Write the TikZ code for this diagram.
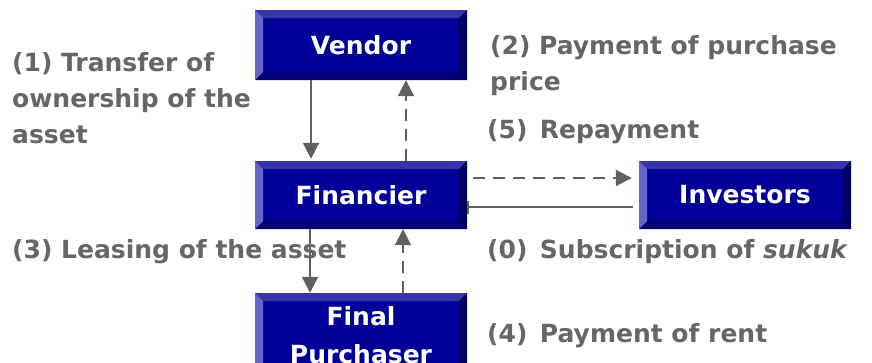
\documentclass[tikz,border=0pt]{standalone}
\usepackage{fontspec}
\setmainfont{DejaVu Sans}
\usetikzlibrary{arrows.meta}

\definecolor{boxface}{HTML}{000099}
\definecolor{bevtop}{HTML}{3636AA}
\definecolor{bevleft}{HTML}{6666C8}
\definecolor{bevright}{HTML}{00005E}
\definecolor{bevbottom}{HTML}{000072}
\definecolor{inkgray}{HTML}{666666}
\definecolor{linegray}{HTML}{606060}

\tikzset{
  bevelbox/.style={
    rectangle, fill=boxface, text=white, inner sep=0pt, align=center,
    minimum width=212pt, minimum height=68pt,
    font=\bfseries\fontsize{25}{38}\selectfont,
    path picture={
      \def\bw{8pt}
      \fill[bevtop] (path picture bounding box.north west) -- (path picture bounding box.north east)
        -- ([shift={(-\bw,-\bw)}]path picture bounding box.north east)
        -- ([shift={(\bw,-\bw)}]path picture bounding box.north west) -- cycle;
      \fill[bevbottom] (path picture bounding box.south west) -- (path picture bounding box.south east)
        -- ([shift={(-\bw,\bw)}]path picture bounding box.south east)
        -- ([shift={(\bw,\bw)}]path picture bounding box.south west) -- cycle;
      \fill[bevleft] (path picture bounding box.north west) -- (path picture bounding box.south west)
        -- ([shift={(\bw,\bw)}]path picture bounding box.south west)
        -- ([shift={(\bw,-\bw)}]path picture bounding box.north west) -- cycle;
      \fill[bevright] (path picture bounding box.north east) -- (path picture bounding box.south east)
        -- ([shift={(-\bw,\bw)}]path picture bounding box.south east)
        -- ([shift={(-\bw,-\bw)}]path picture bounding box.north east) -- cycle;
    }},
  % anchored at the baseline of the last line
  note/.style={anchor=base west, inner sep=0pt, text=inkgray, align=left,
    font=\bfseries\fontsize{25}{36}\selectfont},
  flow/.style={draw=linegray, line width=2pt,
    -{Triangle[width=16pt,length=16pt]}},
  back/.style={flow, dash pattern=on 12pt off 8pt},
}

\begin{document}
\begin{tikzpicture}[x=1pt, y=-1pt]
  \clip (0,0) rectangle (872,362);

  % parties
  \node[bevelbox, minimum height=70pt] (ven) at (361,45) {Vendor};
  \node[bevelbox] (fin) at (361,195) {Financier};
  \node[bevelbox] (inv) at (745,195) {Investors};
  \node[bevelbox, minimum height=84pt] (pur) at (361,335) {Final\\Purchaser};

  % flows between the parties
  \draw[flow, shorten >=2pt] ([xshift=-50pt]ven.south) -- ([xshift=-50pt]fin.north);
  \draw[back] ([xshift=45pt]fin.north) -- ([xshift=45pt]ven.south);
  \draw[flow] ([xshift=-51pt]fin.south) -- ([xshift=-51pt]pur.north);
  \draw[back] ([xshift=42pt]pur.north) -- ([xshift=42pt]fin.south);
  \draw[back, shorten <=6pt, shorten >=7pt] ([yshift=17pt]fin.east) -- ([yshift=17pt]inv.west);
  \draw[draw=linegray, line width=2pt, -{Bar[width=13pt]}, shorten <=6pt]
    ([yshift=-12pt]inv.west) -- ([yshift=-12pt]fin.east);

  % step labels
  \node[note] (l1) at (12,143) {(1) Transfer of\\ownership of the\\asset};
  \node[note] (l2) at (490,90) {(2) Payment of purchase\\price};
  \node[note] (l5) at (487,138) {(5)\hspace{0.5em}Repayment};
  \node[note] (l3) at (12,258) {(3) Leasing of the asset};
  \node[note] (l0) at (487,258) {(0)\hspace{0.5em}Subscription of \textit{sukuk}};
  \node[note] (l4) at (487,342) {(4)\hspace{0.5em}Payment of rent};
\end{tikzpicture}
\end{document}
